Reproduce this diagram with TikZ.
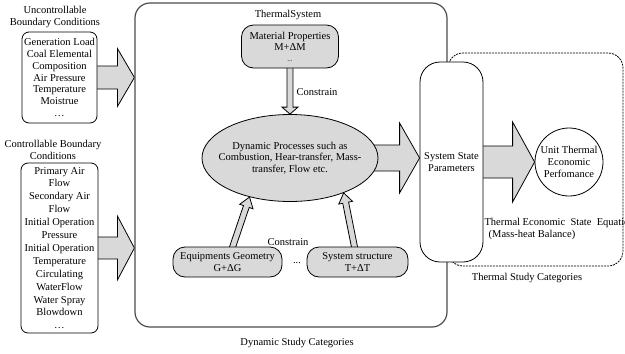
\documentclass[tikz,border=0pt]{standalone}
\usepackage{fontspec}
\setmainfont{Liberation Serif}
\usetikzlibrary{calc, shapes.geometric}

\pgfdeclarelayer{bg}
\pgfsetlayers{bg,main}

% block arrow from #2 to #3: shaft half width #4, head half width #5, head length #6
\newcommand{\blockarrow}[6][]{%
  \coordinate (headBase) at ($(#3)!#6!(#2)$);
  \draw[blockarrow, #1] ($(#2)!#4!90:(#3)$) -- ($(headBase)!#4!90:(#3)$)
    -- ($(headBase)!#5!90:(#3)$) -- (#3) -- ($(headBase)!#5!-90:(#3)$)
    -- ($(headBase)!#4!-90:(#3)$) -- ($(#2)!#4!-90:(#3)$) -- cycle;
}

\begin{document}
\begin{tikzpicture}[
    x=1pt, y=-1pt,
    font=\fontsize{10.5}{12.5}\selectfont,
    box/.style={draw, rounded corners=7pt, align=center, inner sep=1pt, line width=0.8pt},
    greybox/.style={box, fill=black!15, rounded corners=12pt},
    blockarrow/.style={draw, fill=black!15, line width=0.8pt, line join=miter}
  ]
    \useasboundingbox (0,0) rectangle (625,354);

    % boundary conditions
    \node[align=center] (uncLbl) at (55,17) {Uncontrollable\\Boundary Conditions};
    \node[box, fill=white, minimum width=75, minimum height=91, font=\fontsize{10.5}{11.8}\selectfont] (uncBox) at (59.5,77.5)
      {Generation Load\\Coal Elemental\\Composition\\Air Pressure\\Temperature\\Moistrue\\\dots};
    \node[align=center] (ctrlLbl) at (53,150) {Controllable Boundary\\Conditions};
    \node[box, fill=white, minimum width=77, minimum height=170, font=\fontsize{10.5}{12.9}\selectfont] (ctrlBox) at (59.5,248)
      {Primary Air\\Flow\\Secondary Air\\Flow\\Initial Operation\\Pressure\\Initial Operation\\Temperature\\Circulating\\WaterFlow\\Water Spray\\Blowdown\\\dots};

    % thermal system
    \node[box, draw=black!70, line width=1.2pt, rounded corners=15pt, minimum width=312, minimum height=324] (sysBox) at (291,165) {};
    \node (sysLbl) at (288,15) {ThermalSystem};
    \node (dynLbl) at (297,343) {Dynamic Study Categories};
    \node[greybox, minimum width=97, minimum height=43, font=\fontsize{10.5}{11}\selectfont] (matProp) at (290,46.5)
      {Material Properties\\M+ΔM\\{\scriptsize ...}};
    \node[ellipse, draw, fill=black!15, line width=0.8pt, minimum width=176, minimum height=87, inner sep=0pt,
      label={[align=center, font=\fontsize{10.5}{11.5}\selectfont]center:Dynamic Processes such as\\Combustion, Hear-transfer, Mass-\\transfer, Flow etc.}]
      (dynProc) at (290,158) {};
    \node[greybox, minimum width=109, minimum height=30, font=\fontsize{10.5}{12}\selectfont] (eqGeo) at (227.5,262) {Equipments Geometry\\G+ΔG};
    \node[greybox, minimum width=101, minimum height=30, font=\fontsize{10.5}{12}\selectfont] (sysStruct) at (357.5,262) {System structure\\T+ΔT};
    \node (midDots) at (297,263) {...};
    \node (cstrTop) at (317,92) {Constrain};
    \node (cstrBot) at (288,242) {Constrain};

    % thermal study
    \node[box, dash pattern=on 2pt off 1pt, rounded corners=15pt, minimum width=175, minimum height=213] (thermBox) at (535.5,159.5) {};
    \node (thermLbl) at (527,278) {Thermal Study Categories};
    \node[box, fill=white, rounded corners=20pt, minimum width=63, minimum height=200] (sysState) at (451.5,162) {System State\\Parameters};
    \node[circle, draw, fill=white, line width=0.8pt, minimum size=68, inner sep=0pt, align=center, font=\fontsize{10.5}{12}\selectfont] (unitPerf) at (569,162)
      {Unit Thermal\\Economic\\Perfomance};
    \node[anchor=west] (eqLbl) at (481,223) {Thermal Economic\ \ State\ \ Equation};
    \node (balLbl) at (532,235) {(Mass-heat Balance)};

    % arrows
    \coordinate (uncTip) at (uncBox.center -| sysBox.west);
    \coordinate (ctrlTip) at (ctrlBox.center -| sysBox.west);
    \coordinate (dynTip) at (dynProc.center -| sysState.west);
    \begin{pgfonlayer}{bg}
      \blockarrow{uncBox.center}{uncTip}{11.5pt}{29pt}{17pt}
      \blockarrow{ctrlBox.center}{ctrlTip}{11pt}{32pt}{17pt}
      \blockarrow{dynProc.center}{dynTip}{13pt}{35pt}{20pt}
      \blockarrow{sysState.center}{unitPerf.west}{16pt}{40pt}{22pt}
      \blockarrow{matProp.center}{dynProc.north}{3pt}{8pt}{7pt}
      \blockarrow{eqGeo.center}{dynProc.224}{3pt}{7pt}{10pt}
      \blockarrow{sysStruct.center}{dynProc.327}{3pt}{7pt}{10pt}
    \end{pgfonlayer}
\end{tikzpicture}
\end{document}
